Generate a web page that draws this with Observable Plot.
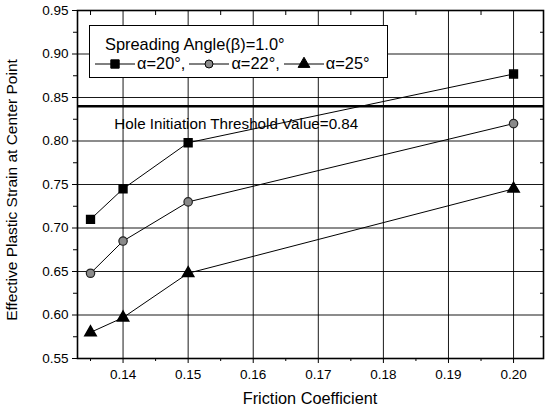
<!DOCTYPE html>
<html>
<head>
<meta charset="utf-8">
<script src="https://cdn.jsdelivr.net/npm/d3@7"></script>
<script src="https://cdn.jsdelivr.net/npm/@observablehq/plot@0.6"></script>
<style>
  html, body { margin: 0; padding: 0; background: #fff; }
  #wrap { position: relative; width: 552px; height: 410px; font-family: "Liberation Sans", Arial, sans-serif; }
  #legend { position: absolute; left: 89px; top: 25px; width: 297px; height: 51px; background: #fff; border: 1.2px solid #000; box-sizing: content-box; }
  #legend .t1 { position: absolute; left: 15px; top: 9px; font-size: 16.4px; }
  #legend .t2 { position: absolute; left: 3px; top: 28px; font-size: 16.4px; display: flex; align-items: center; white-space: nowrap; }
  #legend svg { vertical-align: middle; }
</style>
</head>
<body>
<div id="wrap">
  <div id="chart"></div>
  <div id="legend">
    <div class="t1">Spreading Angle(β)=1.0°</div>
    <div class="t2" id="legrow"></div>
  </div>
</div>
<script>
const frictions = [0.135, 0.14, 0.15, 0.20];
const seriesNames = ["α=20°", "α=22°", "α=25°"];
const alpha20 = [0.710, 0.745, 0.798, 0.877];
const alpha22 = [0.648, 0.685, 0.730, 0.820];
const alpha25 = [0.580, 0.597, 0.648, 0.745];
const threshold = 0.84;
const thresholdLabel = "Hole Initiation Threshold Value=0.84";
const xTicks = [0.14, 0.15, 0.16, 0.17, 0.18, 0.19, 0.20];
const xMinor = [0.135, 0.145, 0.155, 0.165, 0.175, 0.185, 0.195];
const yTicks = [0.55, 0.60, 0.65, 0.70, 0.75, 0.80, 0.85, 0.90, 0.95];
const yMinor = [0.575, 0.625, 0.675, 0.725, 0.775, 0.825, 0.875, 0.925];

const allSeries = [alpha20, alpha22, alpha25];
const data = [];
allSeries.forEach((vals, i) => vals.forEach((v, j) => data.push({series: seriesNames[i], x: frictions[j], y: v})));

const symbols = {"α=20°": "square", "α=22°": "circle", "α=25°": "triangle"};
const fills = {"α=20°": "#000", "α=22°": "#8a8a8a", "α=25°": "#000"};

const chart = Plot.plot({
  width: 552,
  height: 410,
  marginLeft: 77,
  marginRight: 9,
  marginTop: 10,
  marginBottom: 52,
  style: {fontFamily: "Liberation Sans, Arial, sans-serif", background: "#fff", color: "#000"},
  x: {domain: [0.133, 0.2046]},
  y: {domain: [0.55, 0.95]},
  marks: [
    Plot.gridX(xTicks, {stroke: "#000", strokeOpacity: 0.9, strokeWidth: 1}),
    Plot.gridY(yTicks, {stroke: "#000", strokeOpacity: 0.9, strokeWidth: 1}),
    Plot.ruleY([threshold], {stroke: "#000", strokeWidth: 2.6}),
    Plot.line(data, {x: "x", y: "y", z: "series", stroke: "#000", strokeWidth: 1}),
    Plot.dot(data.filter(d => d.series === "α=20°"), {x: "x", y: "y", symbol: "square", r: 4.4, fill: "#000", stroke: "#000"}),
    Plot.dot(data.filter(d => d.series === "α=22°"), {x: "x", y: "y", symbol: "circle", r: 4.2, fill: "#8a8a8a", stroke: "#222", strokeWidth: 1.2}),
    Plot.dot(data.filter(d => d.series === "α=25°"), {x: "x", y: "y", symbol: "triangle", r: 4.2, fill: "#000", stroke: "#000"}),
    Plot.text([thresholdLabel], {x: [0.1574], y: [0.8195], text: d => d, fontSize: 15.2, fill: "#000"}),
    Plot.frame({stroke: "#000", strokeWidth: 1.6}),
    Plot.axisX(xTicks, {anchor: "bottom", tickSize: 5, tickFormat: ".2f", fontSize: 13.5, tickPadding: 6, label: null}),
    Plot.axisX(xMinor, {anchor: "bottom", tickSize: 3, tickFormat: () => "", label: null}),
    Plot.axisX(xMinor, {anchor: "top", tickSize: -4, tickFormat: () => "", label: null}),
    Plot.axisY(yTicks, {anchor: "left", tickSize: 5, tickFormat: ".2f", fontSize: 13.5, tickPadding: 4, label: null}),
    Plot.axisY(yMinor, {anchor: "left", tickSize: 4, tickFormat: () => "", label: null}),
    Plot.axisY(yMinor, {anchor: "right", tickSize: -4, tickFormat: () => "", label: null})
  ]
});
document.getElementById("chart").appendChild(chart);

// axis titles as SVG text in the margins
const svg = d3.select(chart);
svg.append("text").text("Friction Coefficient")
  .attr("x", 77 + (552 - 77 - 9) / 2 + 0).attr("y", 404)
  .attr("text-anchor", "middle").attr("font-size", 16.3).attr("fill", "#000")
  .attr("font-family", "Liberation Sans, Arial, sans-serif");
svg.append("text").text("Effective Plastic Strain at Center Point")
  .attr("transform", `translate(17,${(10 + 358) / 2 + 6}) rotate(-90)`)
  .attr("text-anchor", "middle").attr("font-size", 15.5).attr("fill", "#000")
  .attr("font-family", "Liberation Sans, Arial, sans-serif");

// legend row
const row = document.getElementById("legrow");
seriesNames.forEach((name, i) => {
  const s = d3.create("svg").attr("width", 44).attr("height", 14);
  s.append("line").attr("x1", 2).attr("x2", 42).attr("y1", 7).attr("y2", 7).attr("stroke", "#000").attr("stroke-width", 1);
  const sym = d3.symbol().type(symbols[name] === "square" ? d3.symbolSquare : symbols[name] === "circle" ? d3.symbolCircle : d3.symbolTriangle)
    .size(symbols[name] === "triangle" ? 60 : symbols[name] === "square" ? 70 : 50);
  s.append("path").attr("d", sym()).attr("transform", "translate(22,7)").attr("fill", fills[name]).attr("stroke", "#000");
  row.appendChild(s.node());
  const sp = document.createElement("span");
  sp.textContent = " " + name + (i < seriesNames.length - 1 ? ", " : "");
  sp.style.marginRight = "2px";
  row.appendChild(sp);
});
</script>
</body>
</html>
